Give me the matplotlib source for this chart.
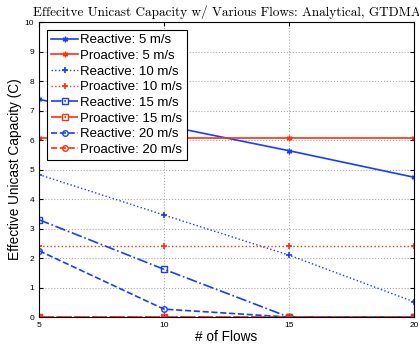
import matplotlib.pyplot as plt

plt.rcParams['font.family'] = ['Liberation Sans', 'DejaVu Sans']

flows = [5, 10, 15, 20]

# capacity per speed
reactive_5 = [7.38, 6.5, 5.64, 4.74]
proactive_5 = [6.08, 6.08, 6.08, 6.08]
reactive_10 = [4.83, 3.46, 2.1, 0.52]
proactive_10 = [2.4, 2.4, 2.4, 2.4]
reactive_15 = [3.3, 1.62, 0.0, 0.0]
proactive_15 = [0.0, 0.0, 0.0, 0.0]
reactive_20 = [2.25, 0.27, 0.0, 0.0]
proactive_20 = [0.0, 0.0, 0.0, 0.0]

blue = '#1a3cff'
red = '#ff3010'
star = (6, 2, 0)

fig = plt.figure(figsize=(4.19, 3.5), dpi=100)
ax = fig.add_axes([0.093, 0.094, 0.895, 0.843])

ax.plot(flows, reactive_5, '-', color=blue, marker=star, ms=4, lw=1.2, label='Reactive: 5 m/s')
ax.plot(flows, proactive_5, '-', color=red, marker=star, ms=4, lw=1.2, label='Proactive: 5 m/s')
ax.plot(flows, reactive_10, ':', color=blue, marker='+', ms=5, lw=1.0, mew=1.2, label='Reactive: 10 m/s')
ax.plot(flows, proactive_10, ':', color=red, marker='+', ms=5, lw=1.0, mew=1.2, label='Proactive: 10 m/s')
ax.plot(flows, reactive_15, '-.', color=blue, marker='s', ms=4, mfc='none', lw=1.2, label='Reactive: 15 m/s')
ax.plot(flows, proactive_15, '-.', color=red, marker='s', ms=4, mfc='none', lw=1.2, label='Proactive: 15 m/s')
ax.plot(flows, reactive_20, '--', color=blue, marker='o', ms=4, mfc='none', lw=1.2, label='Reactive: 20 m/s')
ax.plot(flows, proactive_20, '--', color=red, marker='o', ms=4, mfc='none', lw=1.2, label='Proactive: 20 m/s')

ax.set_xlim(5, 20)
ax.set_ylim(0, 10)
ax.set_xticks(flows)
ax.set_yticks(range(0, 11))
ax.tick_params(direction='in', labelsize=6, length=3, top=True, right=True)
ax.grid(True, linestyle=':', color='#aaaaaa', lw=0.8)
for s in ax.spines.values():
    s.set_linewidth(0.8)

ax.set_xlabel('# of Flows', fontsize=9.8, labelpad=1)
ax.set_ylabel('Effective Unicast Capacity (C)', fontsize=9.8, labelpad=2)
ax.set_title('Effecitve Unicast Capacity w/ Various Flows: Analytical, GTDMA',
             fontsize=9.5, family='cmr10', pad=4)

leg = ax.legend(loc='upper left', fontsize=9.5, handlelength=2.0, handletextpad=0.2,
                labelspacing=0.26, borderpad=0.3, fancybox=False, framealpha=1,
                edgecolor='black', bbox_to_anchor=(0.005, 0.995))
leg.get_frame().set_linewidth(0.8)

fig.savefig('out.png', dpi=100)
